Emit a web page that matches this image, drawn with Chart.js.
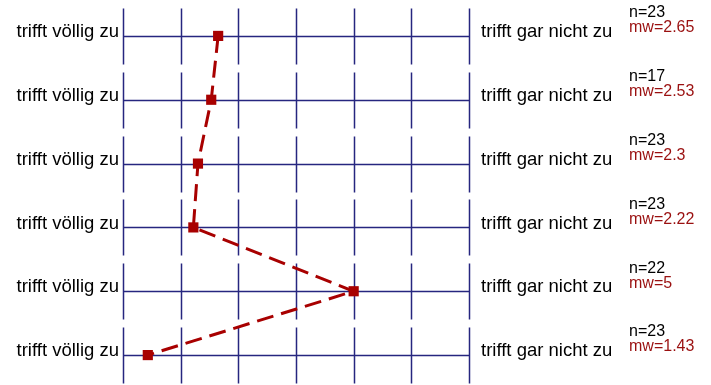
<!DOCTYPE html>
<html>
<head>
<meta charset="utf-8">
<script src="https://cdn.jsdelivr.net/npm/chart.js@4"></script>
<style>
  html, body { margin: 0; padding: 0; background: #fff; overflow: hidden; }
  canvas { display: block; }
</style>
</head>
<body>
<canvas id="profile" width="711" height="385"></canvas>
<script>
const leftLabels = ['trifft völlig zu', 'trifft völlig zu', 'trifft völlig zu', 'trifft völlig zu', 'trifft völlig zu', 'trifft völlig zu'];
const rightLabels = ['trifft gar nicht zu', 'trifft gar nicht zu', 'trifft gar nicht zu', 'trifft gar nicht zu', 'trifft gar nicht zu', 'trifft gar nicht zu'];
const counts = [23, 17, 23, 23, 22, 23];
const means = [2.65, 2.53, 2.3, 2.22, 5, 1.43];
const scaleSteps = [1, 2, 3, 4, 5, 6, 7];

const gridColor = '#26267f';
const markColor = '#a80000';
const font = '"Liberation Sans", Arial, sans-serif';

// one short grid block per item: vertical ticks plus the middle line
const profileGrid = {
    id: 'profileGrid',
    beforeDatasetsDraw(chart) {
        const { ctx, scales: { x, y } } = chart;
        const half = 28;
        ctx.save();
        ctx.strokeStyle = gridColor;
        ctx.lineWidth = 1.5;
        means.forEach((m, i) => {
            const cy = Math.round(y.getPixelForValue(i)) + 0.5;
            ctx.beginPath();
            ctx.moveTo(x.getPixelForValue(scaleSteps[0]), cy);
            ctx.lineTo(x.getPixelForValue(scaleSteps[scaleSteps.length - 1]), cy);
            scaleSteps.forEach(s => {
                const px = Math.round(x.getPixelForValue(s)) + 0.5;
                ctx.moveTo(px, cy - half);
                ctx.lineTo(px, cy + half);
            });
            ctx.stroke();
        });
        ctx.restore();
    },
    afterDraw(chart) {
        const { ctx, scales: { x, y } } = chart;
        const xl = x.getPixelForValue(scaleSteps[0]);
        const xr = x.getPixelForValue(scaleSteps[scaleSteps.length - 1]);
        ctx.save();
        ctx.textBaseline = 'middle';
        means.forEach((m, i) => {
            const cy = y.getPixelForValue(i);
            ctx.font = '18.5px ' + font;
            ctx.fillStyle = '#000';
            ctx.textAlign = 'right';
            ctx.fillText(leftLabels[i], xl - 4, cy - 4);
            ctx.textAlign = 'left';
            ctx.fillText(rightLabels[i], xr + 12, cy - 4);
            ctx.font = '16px ' + font;
            ctx.fillText('n=' + counts[i], xr + 160, cy - 23);
            ctx.fillStyle = '#9a1010';
            ctx.fillText('mw=' + m, xr + 160, cy - 8);
        });
        ctx.restore();
    }
};

new Chart(document.getElementById('profile'), {
    type: 'line',
    data: {
        datasets: [{
            data: means.map((m, i) => ({ x: m, y: i })),
            borderColor: markColor,
            borderWidth: 3,
            borderDash: [17, 8],
            backgroundColor: markColor,
            pointStyle: 'rect',
            pointRadius: 7.2,
            pointBorderWidth: 0,
            tension: 0
        }]
    },
    options: {
        responsive: false,
        animation: false,
        layout: { autoPadding: false, padding: { left: 123, right: 242, top: 8, bottom: 2 } },
        plugins: { legend: { display: false }, tooltip: { enabled: false } },
        scales: {
            x: { type: 'linear', min: 1, max: 7, display: false },
            y: { type: 'linear', min: -0.4375, max: 5.4375, reverse: true, display: false }
        }
    },
    plugins: [profileGrid]
});
</script>
</body>
</html>
